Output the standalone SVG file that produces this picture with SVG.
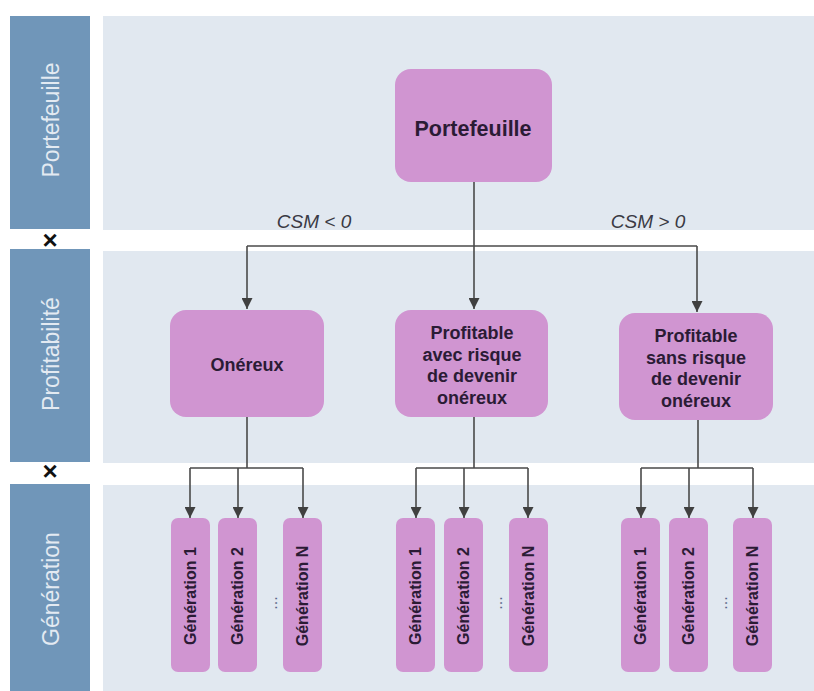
<svg xmlns="http://www.w3.org/2000/svg" width="814" height="691" viewBox="0 0 814 691">
<defs>
<style>
.lane{fill:#7096b9}
.band{fill:#e1e8f0}
.lanet{font-family:"Liberation Sans",Arial,sans-serif;font-size:23px;fill:#e3eaf2;text-anchor:middle}
.node{fill:#d095d1}
.nt{font-family:"Liberation Sans",Arial,sans-serif;font-weight:bold;font-size:18px;fill:#2b1b35;text-anchor:middle}
.big{font-size:21.5px}
.gt{font-family:"Liberation Sans",Arial,sans-serif;font-weight:bold;font-size:16px;fill:#2b1b35;text-anchor:middle}
.csm{font-family:"Liberation Sans",Arial,sans-serif;font-style:italic;font-size:19px;fill:#3a3a44;text-anchor:middle}
.x{font-family:"Liberation Sans",Arial,sans-serif;font-weight:bold;font-size:26px;fill:#111;text-anchor:middle}
.dots{font-family:"Liberation Sans",Arial,sans-serif;font-size:16px;fill:#5a6a8a;text-anchor:middle}
.c{fill:none;stroke:#4a4a4a;stroke-width:1.6}
</style>
<marker id="ah" viewBox="0 0 10 10" refX="10" refY="5" markerWidth="11" markerHeight="11" markerUnits="userSpaceOnUse" orient="auto">
<path d="M0,0 L10,5 L0,10 Z" fill="#404040"/>
</marker>
</defs>
<rect width="814" height="691" fill="#ffffff"/>
<g id="lane-portefeuille">
<rect class="lane" x="10" y="16" width="80" height="213"/>
<rect class="band" x="103" y="16" width="711" height="214"/>
<text class="lanet" transform="translate(59,120) rotate(-90)">Portefeuille</text>
</g>
<g id="lane-profitabilite">
<rect class="lane" x="10" y="249" width="80" height="213"/>
<rect class="band" x="103" y="251" width="711" height="212"/>
<text class="lanet" transform="translate(59,354) rotate(-90)">Profitabilité</text>
</g>
<g id="lane-generation">
<rect class="lane" x="10" y="484" width="80" height="207"/>
<rect class="band" x="103" y="485" width="711" height="206"/>
<text class="lanet" transform="translate(59,589) rotate(-90)">Génération</text>
</g>
<g id="crosses">
<text class="x" x="50" y="249">×</text>
<text class="x" x="50" y="480">×</text>
</g>
<g id="connectors">
<path class="c" d="M474,182 V246"/>
<path class="c" d="M247,246 H697"/>
<path class="c" d="M247,246 V309" marker-end="url(#ah)"/>
<path class="c" d="M474,246 V309" marker-end="url(#ah)"/>
<path class="c" d="M697,246 V312" marker-end="url(#ah)"/>
<path class="c" d="M247,417 V468 M190,468 H303"/>
<path class="c" d="M190,468 V518" marker-end="url(#ah)"/>
<path class="c" d="M238,468 V518" marker-end="url(#ah)"/>
<path class="c" d="M303,468 V518" marker-end="url(#ah)"/>
<path class="c" d="M474,417 V468 M416,468 H528"/>
<path class="c" d="M416,468 V518" marker-end="url(#ah)"/>
<path class="c" d="M464,468 V518" marker-end="url(#ah)"/>
<path class="c" d="M528,468 V518" marker-end="url(#ah)"/>
<path class="c" d="M698,420 V468 M641,468 H753"/>
<path class="c" d="M641,468 V518" marker-end="url(#ah)"/>
<path class="c" d="M689,468 V518" marker-end="url(#ah)"/>
<path class="c" d="M753,468 V518" marker-end="url(#ah)"/>
<text class="csm" x="314" y="228">CSM &lt; 0</text>
<text class="csm" x="648" y="228">CSM &gt; 0</text>
</g>
<g id="n-portefeuille">
<rect class="node" x="395" y="69" width="157" height="113" rx="16"/>
<text class="nt big" x="473" y="135.5">Portefeuille</text>
</g>
<g id="n-onereux">
<rect class="node" x="170" y="310" width="154" height="107" rx="16"/>
<text class="nt" x="247" y="371">Onéreux</text>
</g>
<g id="n-avec">
<rect class="node" x="395" y="310" width="153" height="107" rx="16"/>
<text class="nt" x="472" y="339">Profitable</text>
<text class="nt" x="472" y="360.5">avec risque</text>
<text class="nt" x="472" y="382">de devenir</text>
<text class="nt" x="472" y="403.5">onéreux</text>
</g>
<g id="n-sans">
<rect class="node" x="619" y="313" width="154" height="107" rx="16"/>
<text class="nt" x="696" y="342">Profitable</text>
<text class="nt" x="696" y="363.5">sans risque</text>
<text class="nt" x="696" y="385">de devenir</text>
<text class="nt" x="696" y="406.5">onéreux</text>
</g>
<g id="g1-1"><rect class="node" x="171" y="518" width="39" height="154" rx="7"/><text class="gt" transform="translate(196,596) rotate(-90)">Génération 1</text></g>
<g id="g1-2"><rect class="node" x="218" y="518" width="39" height="154" rx="7"/><text class="gt" transform="translate(243,596) rotate(-90)">Génération 2</text></g>
<text class="dots" transform="translate(277,603) rotate(-90)">...</text>
<g id="g1-n"><rect class="node" x="283" y="518" width="39" height="154" rx="7"/><text class="gt" transform="translate(308,596) rotate(-90)">Génération N</text></g>
<g id="g2-1"><rect class="node" x="396" y="518" width="39" height="154" rx="7"/><text class="gt" transform="translate(421,596) rotate(-90)">Génération 1</text></g>
<g id="g2-2"><rect class="node" x="444" y="518" width="39" height="154" rx="7"/><text class="gt" transform="translate(469,596) rotate(-90)">Génération 2</text></g>
<text class="dots" transform="translate(502,603) rotate(-90)">...</text>
<g id="g2-n"><rect class="node" x="509" y="518" width="39" height="154" rx="7"/><text class="gt" transform="translate(534,596) rotate(-90)">Génération N</text></g>
<g id="g3-1"><rect class="node" x="621" y="518" width="39" height="154" rx="7"/><text class="gt" transform="translate(646,596) rotate(-90)">Génération 1</text></g>
<g id="g3-2"><rect class="node" x="669" y="518" width="39" height="154" rx="7"/><text class="gt" transform="translate(694,596) rotate(-90)">Génération 2</text></g>
<text class="dots" transform="translate(727,603) rotate(-90)">...</text>
<g id="g3-n"><rect class="node" x="733" y="518" width="39" height="154" rx="7"/><text class="gt" transform="translate(758,596) rotate(-90)">Génération N</text></g>
</svg>
